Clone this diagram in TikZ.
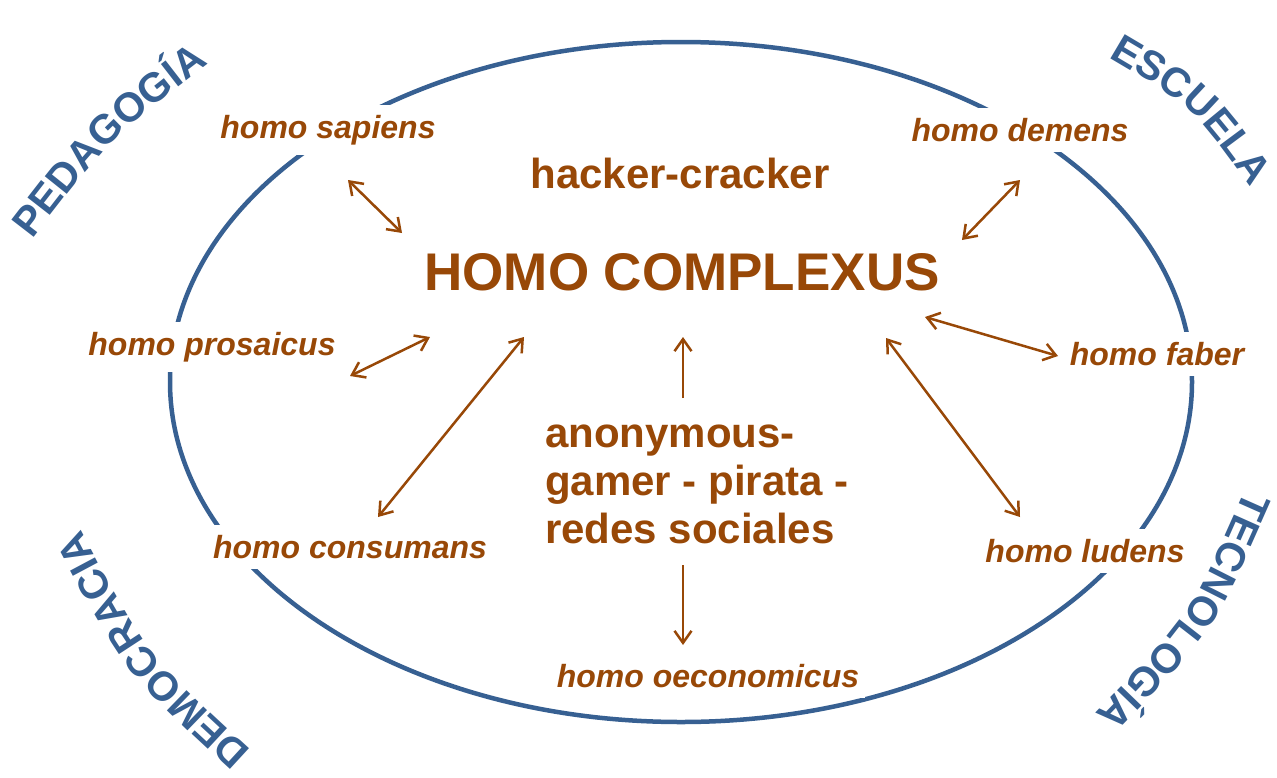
\documentclass[tikz,border=0pt]{standalone}
\usepackage{fontspec}
\setmainfont{Liberation Sans}
\usetikzlibrary{arrows.meta,decorations.text}
\definecolor{brn}{HTML}{984807}
\definecolor{blu}{HTML}{376092}
\tikzset{
  homolabel/.style={fill=white, inner xsep=6pt, inner ysep=10pt, text=brn,
    font=\bfseries\itshape\fontsize{32}{38}\selectfont},
  bigtext/.style={text=brn, font=\bfseries\fontsize{42}{48}\selectfont},
  link/.style={draw=brn, line width=2.5pt, {Straight Barb[length=12pt,width=17pt]}-{Straight Barb[length=12pt,width=17pt]}},
  onelink/.style={draw=brn, line width=2.5pt, -{Straight Barb[length=12pt,width=17pt]}},
  arcword/.style={decorate, decoration={text along path, text align=center,
    text={|\fontsize{41}{41}\selectfont\bfseries\color{blu}|#1}}}
}
\begin{document}
\begin{tikzpicture}[x=1pt,y=1pt]
\useasboundingbox (0,0) rectangle (1277,-777);
\fill[white] (0,0) rectangle (1277,-777);
% ellipse
\draw[blu, line width=4.5pt] (681,-382) ellipse [x radius=511pt, y radius=340pt];
% labels
\node[homolabel] (hs) at (328,-130) {homo sapiens};
\node[homolabel] (hd) at (1020,-130) {homo demens};
\node[homolabel] (hp) at (212,-347) {homo prosaicus};
\node[homolabel] (hf) at (1157,-354) {homo faber};
\node[homolabel] (hc) at (350,-547) {homo consumans};
\node[homolabel] (hl) at (1085,-551) {homo ludens};
\node[homolabel] (ho) at (708,-676) {homo oeconomicus};
\node[bigtext] (hack) at (680,-173) {hacker-cracker};
\node[text=brn, font=\bfseries\fontsize{53}{60}\selectfont] (hcx) at (682,-272) {HOMO COMPLEXUS};
\node[bigtext, align=left, anchor=west, inner sep=0pt] (anon) at (545,-484) {anonymous-\\gamer - pirata -\\redes sociales};
% arrow end points
\coordinate (s1) at (348,-180); \coordinate (s2) at (402,-233);
\coordinate (d1) at (1020,-180); \coordinate (d2) at (962,-240);
\coordinate (p1) at (350,-376); \coordinate (p2) at (430,-337);
\coordinate (c1) at (378,-517); \coordinate (c2) at (524,-337);
\coordinate (u1) at (683,-398); \coordinate (u2) at (683,-337);
\coordinate (o1) at (683,-565); \coordinate (o2) at (683,-645);
\coordinate (f1) at (925,-317); \coordinate (f2) at (1058,-356);
\coordinate (l1) at (886,-338); \coordinate (l2) at (1020,-517);
\draw[link] (s1) -- (s2);
\draw[link] (d1) -- (d2);
\draw[link] (p1) -- (p2);
\draw[link] (c1) -- (c2);
\draw[onelink] (u1) -- (u2);
\draw[onelink] (o1) -- (o2);
\draw[link] (f1) -- (f2);
\draw[link] (l1) -- (l2);
% curved blue words
\path[arcword=PEDAGOGÍA] (35,-236) .. controls (109,-140) .. (205,-66);
\path[arcword=ESCUELA] (1110,-58) .. controls (1193,-107) .. (1250,-186);
\path[arcword=TECNOLOGÍA] (1241,-500) .. controls (1190,-615) .. (1103,-705);
\path[arcword=DEMOCRACIA] (257,-756) .. controls (147,-655) .. (77,-522);
\end{tikzpicture}
\end{document}
